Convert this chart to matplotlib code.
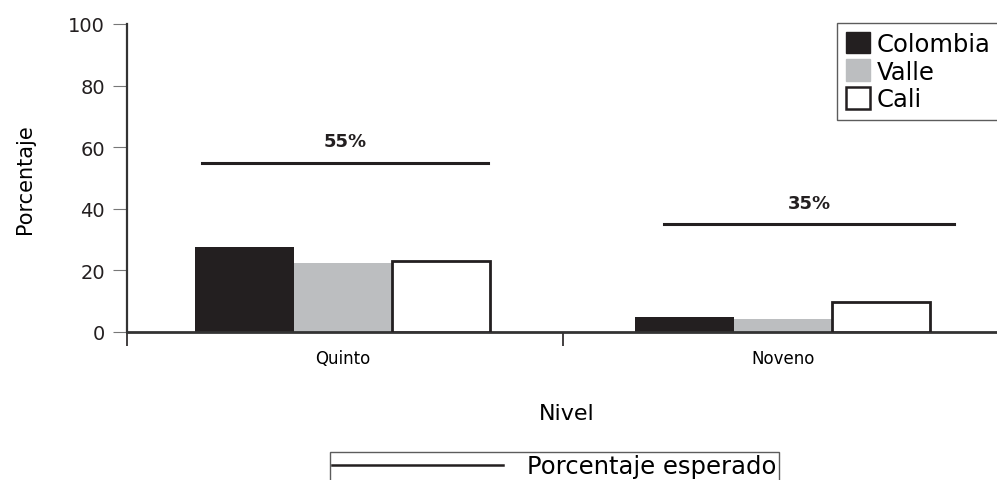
import matplotlib.pyplot as plt
import numpy as np
from matplotlib.patches import Patch
from matplotlib.lines import Line2D

niveles = ["Quinto", "Noveno"]
series = ["Colombia", "Valle", "Cali"]
colombia = [27.6, 4.8]
valle = [22.5, 4.2]
cali = [23.0, 9.6]
esperado = [55, 35]
esperado_inicio = [-0.32, -0.27]
esperado_fin = [0.33, 0.39]

plt.rcParams["font.family"] = ["DejaVu Sans"]
dark = "#231f20"
grey = "#bcbec0"

fig = plt.figure(figsize=(9.97, 4.81), dpi=100)
ax = fig.add_axes([127 / 997, 148 / 481, 880 / 997, 308 / 481])

x = np.arange(len(niveles))
w = 0.223
ax.bar(x - w, colombia, w, color=dark, label="Colombia", zorder=2)
ax.bar(x, valle, w, color=grey, label="Valle", zorder=2)
ax.bar(x + w, cali, w, facecolor="white", edgecolor=dark, linewidth=2, label="Cali", zorder=3)

# expected percentage lines
for i, val in enumerate(esperado):
    x0 = x[i] + esperado_inicio[i]
    x1 = x[i] + esperado_fin[i]
    ax.plot([x0, x1], [val, val], color=dark, linewidth=2.2)
    ax.text((x0 + x1) / 2, val + 7, f"{val}%", ha="center", va="center",
            fontsize=13, fontweight="bold", color=dark)

ax.set_xlim(-0.49, 1.51)
ax.set_ylim(0, 100)
ax.set_yticks([0, 20, 40, 60, 80, 100])
ax.tick_params(axis="y", labelsize=14, length=10, width=0.8, pad=6, colors=dark)
ax.tick_params(axis="y", color="#777777")
ax.set_xticks(x)
ax.set_xticklabels(niveles, fontsize=12)
ax.tick_params(axis="x", length=0, pad=12)
ax.set_xticks([-0.49, 0.5], minor=True)
ax.tick_params(axis="x", which="minor", length=10, width=1.2, color=dark)

for s in ["top", "right"]:
    ax.spines[s].set_visible(False)
ax.spines["left"].set_linewidth(1.6)
ax.spines["left"].set_color("#333333")
ax.spines["bottom"].set_linewidth(2)
ax.spines["bottom"].set_color("#333333")

ax.set_ylabel("Porcentaje", fontsize=15, labelpad=24)
ax.set_xlabel("Nivel", fontsize=16, labelpad=26)

handles = [Patch(facecolor=dark, edgecolor=dark),
           Patch(facecolor=grey, edgecolor=grey),
           Patch(facecolor="white", edgecolor=dark, linewidth=1.8)]
fig.legend(handles, series, loc="upper left", bbox_to_anchor=(837 / 997, 1 - 24 / 481),
           fontsize=17.5, frameon=True, fancybox=False, edgecolor="#333333",
           handlelength=1.0, handleheight=1.0, handletextpad=0.3, labelspacing=0.15,
           borderpad=0.35, borderaxespad=0)

fig.legend([Line2D([0], [0], color=dark, linewidth=1.8)], ["Porcentaje esperado"],
           loc="upper left", bbox_to_anchor=(330 / 997, 1 - 453 / 481),
           fontsize=17.5, frameon=True, fancybox=False, edgecolor="#333333",
           handlelength=7.0, handletextpad=1.0, borderpad=0.1, borderaxespad=0)

fig.savefig("out.png", dpi=100)
